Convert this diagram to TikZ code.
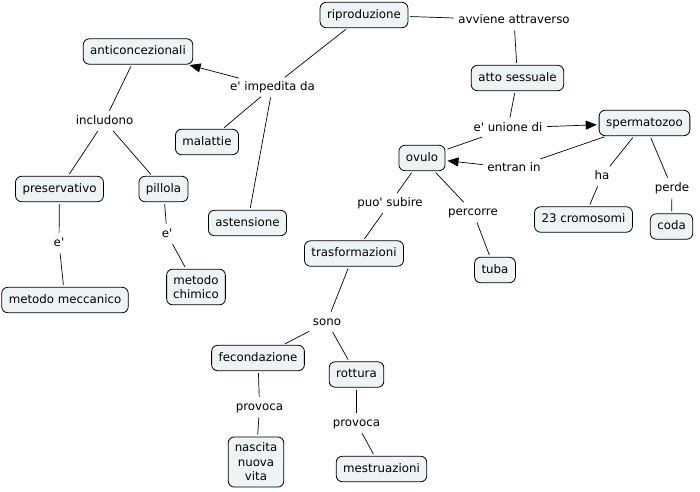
\documentclass[tikz,border=0pt]{standalone}
\usepackage{fontspec}
\setmainfont{DejaVu Sans}[Ligatures=TeXOff]
\usetikzlibrary{arrows.meta}
\definecolor{boxfill}{RGB}{238,243,245}
\tikzset{
  concept/.style={draw=black, line width=0.8pt, rounded corners=6pt, fill=boxfill,
    inner xsep=7pt, inner ysep=7pt, text height=8.8pt, text depth=2.6pt,
    font=\fontsize{11.8}{14.5}\selectfont},
  mconcept/.style={draw=black, line width=0.8pt, rounded corners=6pt, fill=boxfill,
    inner xsep=6.5pt, inner ysep=6pt, align=center,
    font=\fontsize{11.8}{14.5}\selectfont},
  lbl/.style={inner sep=2.5pt, text height=8.8pt, text depth=2.6pt,
    font=\fontsize{11.8}{14.5}\selectfont},
  conn/.style={draw=black, line width=0.7pt, shorten <=2pt, shorten >=2pt},
  arr/.style={conn, -{Triangle[length=11pt,width=9pt]}}
}
\begin{document}
\begin{tikzpicture}[x=1pt,y=-1pt]
\useasboundingbox (0,0) rectangle (700,491);
% concepts
\node[concept] (ripro) at (364,15) {riproduzione};
\node[concept] (atto) at (517.5,78) {atto sessuale};
\node[concept] (anti) at (138,51.5) {anticoncezionali};
\node[concept] (mal) at (207,142) {malattie};
\node[concept] (ast) at (247.5,223) {astensione};
\node[concept] (pres) at (59.5,189) {preservativo};
\node[concept] (pill) at (163.5,189) {pillola};
\node[concept] (mecc) at (65,300) {metodo meccanico};
\node[mconcept] (chim) at (196,287) {metodo\\chimico};
\node[concept] (sperm) at (644.5,123) {spermatozoo};
\node[concept] (ovulo) at (422,158) {ovulo};
\node[concept] (crom) at (583.5,219.5) {23 cromosomi};
\node[concept] (coda) at (671.5,226.5) {coda};
\node[concept] (tuba) at (495,270) {tuba};
\node[concept] (trasf) at (354,253.5) {trasformazioni};
\node[concept] (fec) at (258,358) {fecondazione};
\node[concept] (rott) at (356.5,374.5) {rottura};
\node[mconcept] (nasc) at (256,462) {nascita\\nuova\\vita};
\node[concept] (mestr) at (381.5,469) {mestruazioni};
% linking phrases
\node[lbl] (lavv) at (514,20) {avviene attraverso};
\node[lbl] (limp) at (272.5,87) {e' impedita da};
\node[lbl] (linc) at (104.5,121) {includono};
\node[lbl] (le1) at (59,243) {e'};
\node[lbl] (le2) at (167,234) {e'};
\node[lbl] (luni) at (508,128) {e' unione di};
\node[lbl] (lent) at (514,168) {entran in};
\node[lbl] (lha) at (602,176) {ha};
\node[lbl] (lper) at (672,188) {perde};
\node[lbl] (lpuo) at (390,203) {puo' subire};
\node[lbl] (lperc) at (473,212) {percorre};
\node[lbl] (lsono) at (327,322) {sono};
\node[lbl] (lprov1) at (259.5,407) {provoca};
\node[lbl] (lprov2) at (356.5,423) {provoca};
% connectors
\draw[conn] (ripro) -- (lavv);
\draw[conn] (lavv) -- (atto);
\draw[conn] (ripro) -- (limp);
\draw[arr] (limp) -- (anti);
\draw[conn] (limp) -- (mal);
\draw[conn] (limp) -- (ast);
\draw[conn] (anti) -- (linc);
\draw[conn] (linc) -- (pres);
\draw[conn] (linc) -- (pill);
\draw[conn] (pres) -- (le1);
\draw[conn] (le1) -- (mecc);
\draw[conn] (pill) -- (le2);
\draw[conn] (le2) -- (chim);
\draw[conn] (atto) -- (luni);
\draw[arr] (luni) -- (sperm);
\draw[conn] (luni) -- (ovulo);
\draw[conn] (sperm) -- (lent);
\draw[arr] (lent) -- (ovulo);
\draw[conn] (sperm) -- (lha);
\draw[conn] (lha) -- (crom);
\draw[conn] (sperm) -- (lper);
\draw[conn] (lper) -- (coda);
\draw[conn] (ovulo) -- (lpuo);
\draw[conn] (lpuo) -- (trasf);
\draw[conn] (ovulo) -- (lperc);
\draw[conn] (lperc) -- (tuba);
\draw[conn] (trasf) -- (lsono);
\draw[conn] (lsono) -- (fec);
\draw[conn] (lsono) -- (rott);
\draw[conn] (fec) -- (lprov1);
\draw[conn] (lprov1) -- (nasc);
\draw[conn] (rott) -- (lprov2);
\draw[conn] (lprov2) -- (mestr);
\end{tikzpicture}
\end{document}
